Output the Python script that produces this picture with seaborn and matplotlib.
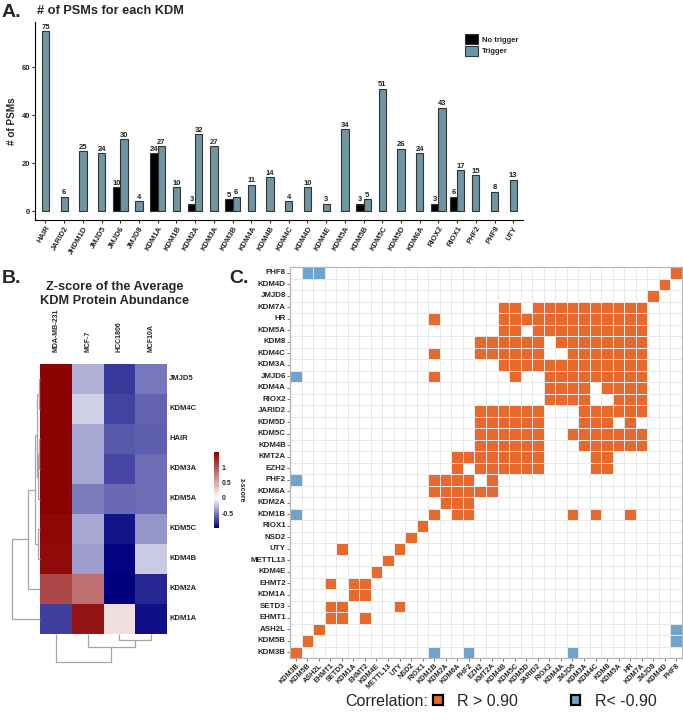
import numpy as np
import pandas as pd
import matplotlib
matplotlib.use("Agg")
import matplotlib.pyplot as plt
import seaborn as sns
from matplotlib.colors import LinearSegmentedColormap, ListedColormap
from matplotlib.patches import Patch

# ---------------- data ----------------
# Panel A
kdm_a = ["HAIR", "JARID2", "JHDM1D", "JMJD5", "JMJD6", "JMJD8", "KDM1A", "KDM1B",
         "KDM2A", "KDM3A", "KDM3B", "KDM4A", "KDM4B", "KDM4C", "KDM4D", "KDM4E",
         "KDM5A", "KDM5B", "KDM5C", "KDM5D", "KDM6A", "RIOX2", "RIOX1", "PHF2",
         "PHF8", "UTY"]
psm_trigger = [75, 6, 25, 24, 30, 4, 27, 10, 32, 27, 6, 11, 14, 4, 10, 3, 34, 5,
               51, 26, 24, 43, 17, 15, 8, 13]
psm_no_trigger = [0, 0, 0, 0, 10, 0, 24, 0, 3, 0, 5, 0, 0, 0, 0, 0, 0, 3, 0, 0,
                  0, 3, 6, 0, 0, 0]

# Panel B
cell_lines = ["MDA-MB-231", "MCF-7", "HCC1806", "MCF10A"]
kdm_b = ["JMJD5", "KDM4C", "HAIR", "KDM3A", "KDM5A", "KDM5C", "KDM4B", "KDM2A", "KDM1A"]
z_mda = [1.48, 1.48, 1.49, 1.48, 1.50, 1.46, 1.44, 1.08, -0.73]
z_mcf7 = [-0.30, -0.18, -0.34, -0.34, -0.50, -0.34, -0.37, 0.84, 1.38]
z_hcc = [-0.76, -0.72, -0.64, -0.70, -0.58, -0.90, -0.97, -0.98, 0.20]
z_mcf10a = [-0.52, -0.60, -0.62, -0.56, -0.56, -0.40, -0.20, -0.83, -0.92]
# dendrogram merges (leaf indices in displayed order, new nodes numbered from n)
row_links = [(2, 3, 0.08), (0, 1, 0.15), (9, 4, 0.20), (10, 11, 0.30),
             (5, 6, 0.20), (12, 13, 0.50), (14, 7, 1.20), (15, 8, 2.80)]
col_links = [(2, 3, 0.21), (1, 4, 0.46), (0, 5, 1.0)]

# Panel C
corr_labels = ["KDM3B", "KDM5B", "ASH2L", "EHMT1", "SETD3", "KDM1A", "EHMT2", "KDM4E",
               "METTL13", "UTY", "NSD2", "RIOX1", "KDM1B", "KDM2A", "KDM6A", "PHF2",
               "EZH2", "KMT2A", "KDM4B", "KDM5C", "KDM5D", "JARID2", "RIOX2", "KDM4A",
               "JMJD6", "KDM3A", "KDM4C", "KDM8", "KDM5A", "HR", "KDM7A", "JMJD8",
               "KDM4D", "PHF8"]
pos_cells = {
    "PHF8": "33", "KDM4D": "32", "JMJD8": "31",
    "KDM7A": "18-19,21-30", "HR": "12,18-30", "KDM5A": "18-19,21-30",
    "KDM8": "16-21,23-30", "KDM4C": "12,16-21,24-30", "KDM3A": "18-30",
    "JMJD6": "12,19,22-30", "KDM4A": "22-25,27-30", "RIOX2": "22-25,28-30",
    "JARID2": "16-21,25-30", "KDM5D": "16-21,25-27,29", "KDM5C": "16-21,24-30",
    "KDM4B": "16-21,25-30", "KMT2A": "14-21,26-27", "EZH2": "14,16-21,26-27",
    "PHF2": "12-15,17", "KDM6A": "12-17", "KDM2A": "13-15",
    "KDM1B": "12,14-15,24,26,29", "RIOX1": "11", "NSD2": "10", "UTY": "4,9",
    "METTL13": "8", "KDM4E": "7", "EHMT2": "3,5-6", "KDM1A": "5-6",
    "SETD3": "3-4,9", "EHMT1": "3-4,6", "ASH2L": "2", "KDM5B": "1", "KDM3B": "0",
}
neg_cells = {"PHF8": "1-2", "JMJD6": "0", "PHF2": "0", "KDM1B": "0",
             "ASH2L": "33", "KDM5B": "33", "KDM3B": "12,15,24"}

# ---------------- style ----------------
sns.set_theme(style="white")
plt.rcParams['font.family'] = ['Liberation Sans', 'DejaVu Sans']

W, H = 683, 720
fig = plt.figure(figsize=(W / 100, H / 100), dpi=100)


def add_ax(l, t, r, b):
    return fig.add_axes([l / W, 1 - b / H, (r - l) / W, (b - t) / H])


BLUE_A = "#6898AA"
ORANGE = "#E8692C"
BLUE_C = "#6FA3CC"

# ---------------- Panel A ----------------
rows = []
for i, k in enumerate(kdm_a):
    if psm_no_trigger[i] > 0:
        rows.append((i - 0.195, k, "No trigger", psm_no_trigger[i]))
        rows.append((i + 0.195, k, "Trigger", psm_trigger[i]))
    else:
        rows.append((float(i), k, "Trigger", psm_trigger[i]))
dfA = pd.DataFrame(rows, columns=["pos", "kdm", "cond", "psms"])

axA = add_ax(35, 22, 523, 220)
sns.barplot(data=dfA, x="pos", y="psms", hue="cond", native_scale=True, dodge=False,
            width=1.0, palette={"No trigger": "black", "Trigger": BLUE_A},
            edgecolor="#333333", linewidth=0.8, errorbar=None, legend=False, ax=axA)
for cont in axA.containers:
    axA.bar_label(cont, padding=0.3, fontsize=5.5, fontweight="bold", color="#222222")
axA.set_xticks(range(len(kdm_a)))
axA.set_xticklabels(kdm_a, rotation=60, ha="right", rotation_mode="anchor",
                    fontsize=5.5, fontweight="bold")
axA.set_yticks([0, 20, 40, 60])
axA.set_yticklabels(["0", "20", "40", "60"], fontsize=5.5, fontweight="bold")
axA.set_xlim(-0.56, 25.52)
axA.set_ylim(-3.75, 78.75)
axA.set_xlabel("")
axA.set_ylabel("")
sns.despine(ax=axA)
for s in ["left", "bottom"]:
    axA.spines[s].set_color("black")
    axA.spines[s].set_linewidth(0.8)
axA.tick_params(axis="both", length=2, width=0.6, color="black", pad=1.5,
                bottom=True, left=True)
fig.text(12 / W, 1 - 121 / H, "# of PSMs", rotation=90, ha="center", va="center",
         fontsize=7.2, fontweight="bold")
fig.text(37 / W, 1 - 13.5 / H, "# of PSMs for each KDM", ha="left", va="baseline",
         fontsize=9.2, fontweight="bold")
fig.text(2 / W, 1 - 17 / H, "A.", ha="left", va="baseline", fontsize=14, fontweight="bold")
fig.legend(handles=[Patch(facecolor="black", edgecolor="#333333", lw=0.8),
                    Patch(facecolor=BLUE_A, edgecolor="#333333", lw=0.8)],
           labels=["No trigger", "Trigger"], loc="upper left",
           bbox_to_anchor=(465 / W, 1 - 34 / H), frameon=False,
           prop={"size": 5.5, "weight": "bold"}, handlelength=1.7,
           handleheight=1.7, labelspacing=0.2, handletextpad=0.5,
           borderaxespad=0, borderpad=0)

# ---------------- Panel B ----------------
dfB = pd.DataFrame({cell_lines[0]: z_mda, cell_lines[1]: z_mcf7,
                    cell_lines[2]: z_hcc, cell_lines[3]: z_mcf10a}, index=kdm_b)
vmin, vmax = -0.98, 1.5
cmapB = LinearSegmentedColormap.from_list(
    "zs", [(0.0, "#00007F"), ((0 - vmin) / (vmax - vmin), "white"), (1.0, "#8B0000")])
axB = add_ax(40, 364, 167, 634)
cax = add_ax(214, 452, 219, 528)
sns.heatmap(dfB, ax=axB, cmap=cmapB, vmin=vmin, vmax=vmax, cbar_ax=cax)
axB.xaxis.tick_top()
axB.yaxis.tick_right()
axB.set_xticklabels(cell_lines, rotation=90, fontsize=5, fontweight="bold", va="bottom")
axB.set_yticklabels(kdm_b, rotation=0, fontsize=5.5, fontweight="bold", va="center")
axB.tick_params(axis="x", length=0, pad=9)
axB.tick_params(axis="y", length=0, pad=1.5)
cax.set_yticks([-0.5, 0, 0.5, 1])
cax.set_yticklabels(["-0.5", "0", "0.5", "1"], fontsize=5, fontweight="bold")
cax.tick_params(length=0, pad=2)
for s in cax.spines.values():
    s.set_visible(False)
fig.text(241 / W, 1 - 490 / H, "z-score", rotation=270, ha="center", va="center",
         fontsize=5, fontweight="bold")
fig.text(115 / W, 1 - 294 / H, "Z-score of the Average\nKDM Protein Abundance",
         ha="center", va="center", fontsize=9.2, fontweight="bold", linespacing=1.25)
fig.text(2 / W, 1 - 283 / H, "B.", ha="left", va="baseline", fontsize=14, fontweight="bold")


def dendro(n, links):
    pos = {i: i + 0.5 for i in range(n)}
    hgt = {i: 0.0 for i in range(n)}
    segs = []
    for k, (a, b, h) in enumerate(links):
        segs.append(([hgt[a], h, h, hgt[b]], [pos[a], pos[a], pos[b], pos[b]]))
        pos[n + k] = (pos[a] + pos[b]) / 2
        hgt[n + k] = h
    return segs


DCOL = "#A6A6A6"
axRD = add_ax(12, 364, 40, 634)
for hx, py in dendro(len(kdm_b), row_links):
    axRD.plot(hx, py, color=DCOL, lw=0.9, clip_on=False, solid_capstyle="butt")
axRD.set_xlim(row_links[-1][2], 0)
axRD.set_ylim(len(kdm_b), 0)
axRD.axis("off")

axCD = add_ax(40, 634, 167, 662)
for hy, px in dendro(len(cell_lines), col_links):
    axCD.plot(px, hy, color=DCOL, lw=0.9, clip_on=False, solid_capstyle="butt")
axCD.set_ylim(col_links[-1][2], 0)
axCD.set_xlim(0, len(cell_lines))
axCD.axis("off")

# ---------------- Panel C ----------------


def parse(s):
    out = []
    for part in s.split(","):
        if "-" in part:
            a, b = part.split("-")
            out.extend(range(int(a), int(b) + 1))
        else:
            out.append(int(part))
    return out


n = len(corr_labels)
M = np.zeros((n, n))
for lab, s in pos_cells.items():
    M[corr_labels.index(lab), parse(s)] = 1
for lab, s in neg_cells.items():
    M[corr_labels.index(lab), parse(s)] = -1
dfC = pd.DataFrame(M[::-1], index=corr_labels[::-1], columns=corr_labels)

axC = add_ax(290, 267, 682, 658)
sns.heatmap(dfC, ax=axC, cmap=ListedColormap([BLUE_C, "white", ORANGE]),
            vmin=-1.5, vmax=1.5, cbar=False, linewidths=0.5, linecolor="#E8E8E8",
            xticklabels=True, yticklabels=True, square=False)
axC.set_xticklabels(corr_labels, rotation=45, ha="right", rotation_mode="anchor",
                    fontsize=5.2, fontweight="bold")
axC.set_yticklabels(corr_labels[::-1], rotation=0, fontsize=5.7, fontweight="bold")
axC.tick_params(axis="both", length=2, width=0.5, color="#444444", pad=1,
                bottom=True, left=True)
for s in axC.spines.values():
    s.set_visible(True)
    s.set_color("#B5B5B5")
    s.set_linewidth(0.9)
fig.text(229 / W, 1 - 283 / H, "C.", ha="left", va="baseline", fontsize=14, fontweight="bold")

fig.text(345 / W, 1 - 701 / H, "Correlation:", ha="left", va="center", fontsize=11.5)
fig.legend(handles=[Patch(facecolor=ORANGE, edgecolor="black", lw=1.6),
                    Patch(facecolor=BLUE_C, edgecolor="black", lw=1.6)],
           labels=["R > 0.90", "R< -0.90"], loc="center left",
           bbox_to_anchor=(433 / W, 1 - 701 / H), ncol=2, frameon=False,
           prop={"size": 11.5}, handlelength=0.6, handleheight=0.6,
           handletextpad=0.9, columnspacing=3.3, borderaxespad=0, borderpad=0)

fig.savefig("out.png", dpi=100)
